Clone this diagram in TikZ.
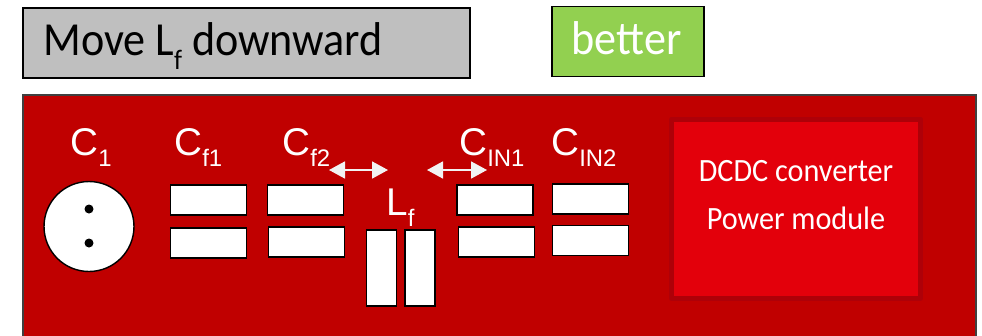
\documentclass[tikz,border=0pt]{standalone}
\usepackage{fontspec}
\setmainfont[FakeStretch=0.93]{Carlito}
\newfontfamily\labelfont{Liberation Sans}
\usetikzlibrary{arrows.meta}

\newcommand{\partlabel}[2]{#1\raisebox{-0.3em}{\fontsize{13.6}{14}\selectfont #2}}

\begin{document}
\begin{tikzpicture}[
    x=0.02cm, y=-0.02cm,
    board/.style={rectangle, draw=black!75, line width=0.8pt, fill=boardred, minimum width=19.06cm, minimum height=5.2cm, inner sep=0pt},
    titlebox/.style={rectangle, draw=black, line width=0.7pt, minimum height=1.4cm, inner sep=0pt},
    capwide/.style={rectangle, draw=black, fill=white, line width=0.8pt, minimum width=1.52cm, minimum height=0.6cm, inner sep=0pt},
    captall/.style={rectangle, draw=black, fill=white, line width=0.8pt, minimum width=0.6cm, minimum height=1.52cm, inner sep=0pt},
    partname/.style={anchor=base west, inner sep=0pt, text=white, font=\labelfont\fontsize{22}{24}\selectfont},
    modtext/.style={anchor=base, inner sep=0pt, text=white, font=\fontsize{18.5}{20}\selectfont},
    gap/.style={{Triangle[length=0.32cm,width=0.34cm]}-{Triangle[length=0.32cm,width=0.34cm]}, line width=1pt, draw=gaparrow, fill=gaparrow}
]
    \definecolor{boardred}{HTML}{C00000}
    \definecolor{modulered}{HTML}{E3000B}
    \definecolor{moduleedge}{HTML}{AE0008}
    \definecolor{gaparrow}{HTML}{F2F2F2}
    \definecolor{titlegray}{HTML}{BFBFBF}
    \definecolor{titlegreen}{HTML}{92D050}

    \useasboundingbox (0,0) rectangle (982,335);

    % Titles
    \node[titlebox, fill=titlegray, minimum width=8.94cm] (title) at (246.5,43) {};
    \node[anchor=base west, inner sep=0pt, font=\fontsize{27}{30}\selectfont] (titletext) at (43,55) {Move L\raisebox{-0.3em}{\fontsize{16}{18}\selectfont f} downward};
    \node[titlebox, fill=titlegreen, minimum width=3.04cm] (verdict) at (628,41.5) {};
    \node[anchor=base, inner sep=0pt, text=white, font=\fontsize{27}{30}\selectfont] (verdicttext) at (626.5,54) {better};

    % Board
    \node[board] (pcb) at (499.5,225) {};

    % Power module
    \node[rectangle, draw=moduleedge, fill=modulered, line width=3pt, line join=round, minimum width=4.98cm, minimum height=3.58cm, inner sep=0pt] (module) at (796,209) {};
    \node[modtext] (modtop) at (796,181) {DCDC converter};
    \node[modtext] (modbot) at (796,229) {Power module};

    % C1
    \node[circle, draw=black, fill=white, line width=0.8pt, minimum size=1.8cm, inner sep=0pt] (c1) at (89,226.5) {};
    \node[circle, fill=black, minimum size=0.18cm, inner sep=0pt] (c1a) at (89,209) {};
    \node[circle, fill=black, minimum size=0.18cm, inner sep=0pt] (c1b) at (89,243) {};

    % Capacitors
    \node[capwide] (cf1a) at (208.5,200) {};
    \node[capwide] (cf1b) at (208.5,243) {};
    \node[capwide] (cf2a) at (305.5,200) {};
    \node[capwide] (cf2b) at (306.5,242) {};
    \node[capwide] (cin1a) at (495,200) {};
    \node[capwide] (cin1b) at (496.5,242) {};
    \node[capwide] (cin2a) at (590.5,199) {};
    \node[capwide] (cin2b) at (590.5,240.5) {};

    % Inductor
    \node[captall] (lfa) at (381.5,268) {};
    \node[captall] (lfb) at (420,268) {};

    % Labels
    \node[partname] (c1name) at (70,155) {\partlabel{C}{1}};
    \node[partname] (cf1name) at (174,155) {\partlabel{C}{f1}};
    \node[partname] (cf2name) at (282,155) {\partlabel{C}{f2}};
    \node[partname] (cin1name) at (459,155) {\partlabel{C}{IN1}};
    \node[partname] (cin2name) at (551,155) {\partlabel{C}{IN2}};
    \node[partname] (lfname) at (386,215) {\partlabel{L}{f}};

    % Arrows
    \coordinate (gapaw) at (329,170);
    \coordinate (gapae) at (388,170);
    \coordinate (gapbw) at (427,170);
    \coordinate (gapbe) at (487,170);
    \draw[gap] (gapaw) -- (gapae);
    \draw[gap] (gapbw) -- (gapbe);

\end{tikzpicture}
\end{document}
